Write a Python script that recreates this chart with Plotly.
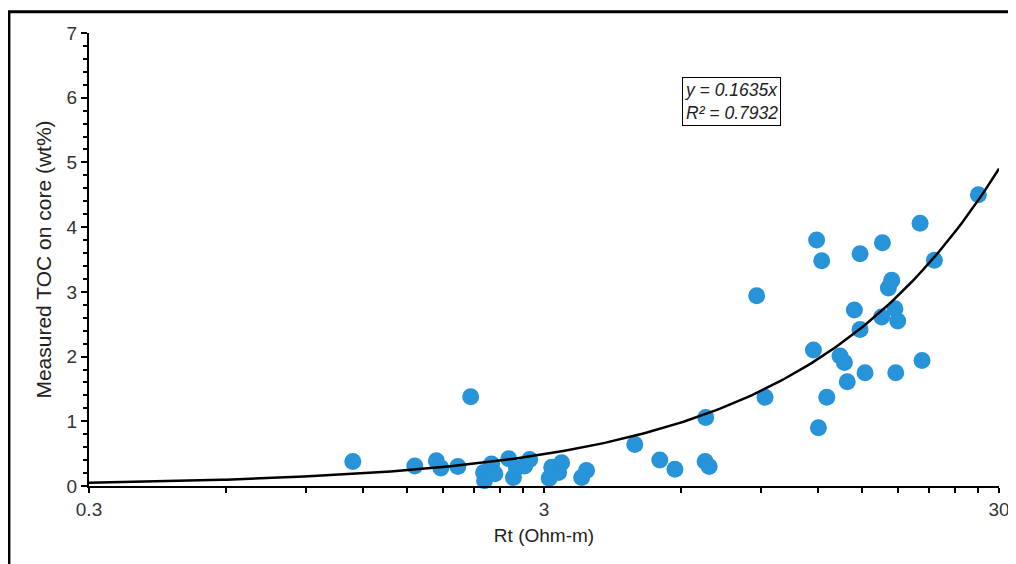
import numpy as np
import plotly.graph_objects as go

# Data
rt_ohm_m = [1.14, 1.56, 1.74, 1.78, 1.94, 2.07, 2.30, 2.21, 2.22, 2.34,
            2.51, 2.57, 2.61, 2.79, 2.72, 3.12, 3.28, 3.08, 3.23, 3.72,
            3.63, 4.75, 5.39, 5.82, 6.80, 6.78, 6.92, 8.80, 9.18, 11.73,
            12.03, 12.55, 13.42, 13.72, 13.92, 14.43, 14.85, 15.23, 16.57, 17.14,
            17.43, 17.72, 17.97, 17.79, 20.32, 27.03, 20.12, 11.92, 12.23, 14.85,
            16.63, 21.63]
toc_wt = [0.38, 0.31, 0.39, 0.28, 0.30, 1.38, 0.34, 0.21, 0.08, 0.19,
          0.42, 0.13, 0.28, 0.41, 0.31, 0.29, 0.36, 0.12, 0.21, 0.24,
          0.13, 0.64, 0.40, 0.26, 1.06, 0.38, 0.30, 2.94, 1.37, 2.10,
          0.90, 1.37, 2.01, 1.91, 1.61, 2.72, 2.42, 1.75, 2.61, 3.06,
          3.18, 2.74, 2.55, 1.75, 1.94, 4.50, 4.06, 3.80, 3.48, 3.59,
          3.76, 3.49]

fit_slope = 0.1635
fit_r2 = 0.7932

x_tick_values = [0.3, 0.6, 0.9, 1.2, 1.5, 1.8, 2.1, 2.4, 2.7,
                 3, 6, 9, 12, 15, 18, 21, 24, 27, 30]
x_tick_labels = ["0.3"] + [""] * 8 + ["3"] + [""] * 8 + ["30"]

FONT = "Arial, Liberation Sans, sans-serif"

fit_x = np.logspace(np.log10(0.3), np.log10(30), 200)
fit_y = fit_slope * fit_x

fig = go.Figure()
fig.add_trace(go.Scatter(
    x=rt_ohm_m, y=toc_wt, mode="markers",
    marker=dict(size=17, color="#2794d9", line=dict(width=0)),
    showlegend=False, cliponaxis=False))
fig.add_trace(go.Scatter(
    x=fit_x, y=fit_y, mode="lines",
    line=dict(color="black", width=2.5),
    showlegend=False))

fig.update_layout(
    width=1016, height=564,
    margin=dict(l=81, r=25, t=25, b=86, autoexpand=False),
    paper_bgcolor="white", plot_bgcolor="white",
    font=dict(family=FONT, size=19, color="#222222"),
    xaxis=dict(
        type="log", range=[np.log10(0.3), np.log10(30)],
        tickmode="array", tickvals=x_tick_values, ticktext=x_tick_labels,
        ticks="outside", ticklen=5, tickwidth=2, tickcolor="black",
        showline=True, linecolor="black", linewidth=2,
        showgrid=False, zeroline=False,
        title=dict(text="Rt (Ohm-m)", font=dict(size=19), standoff=10),
        tickfont=dict(size=19, color="#333333"),
    ),
    yaxis=dict(
        range=[0, 7], dtick=1,
        ticks="outside", ticklen=6, tickwidth=2, tickcolor="black",
        minor=dict(dtick=0.2, ticks="outside", ticklen=4, tickwidth=2, tickcolor="black"),
        showline=True, linecolor="black", linewidth=2,
        showgrid=False, zeroline=False,
        title=dict(text="Measured TOC on core (wt%)", font=dict(size=21), standoff=9),
        tickfont=dict(size=19, color="#333333"),
    ),
    shapes=[dict(type="rect", xref="paper", yref="paper",
                 x0=-0.088, x1=1.2, y0=-0.5, y1=1.047,
                 line=dict(color="black", width=3), fillcolor="rgba(0,0,0,0)")],
    annotations=[dict(
        xref="paper", yref="paper", x=0.706, y=0.849,
        xanchor="center", yanchor="middle",
        text=f"<i>y = {fit_slope}x</i><br><i>R² = {fit_r2}</i>",
        showarrow=False, align="left",
        font=dict(family=FONT, size=17.5, color="#222222"),
        bordercolor="black", borderwidth=1, borderpad=2, bgcolor="white",
    )],
)

fig.write_html("out.html")
